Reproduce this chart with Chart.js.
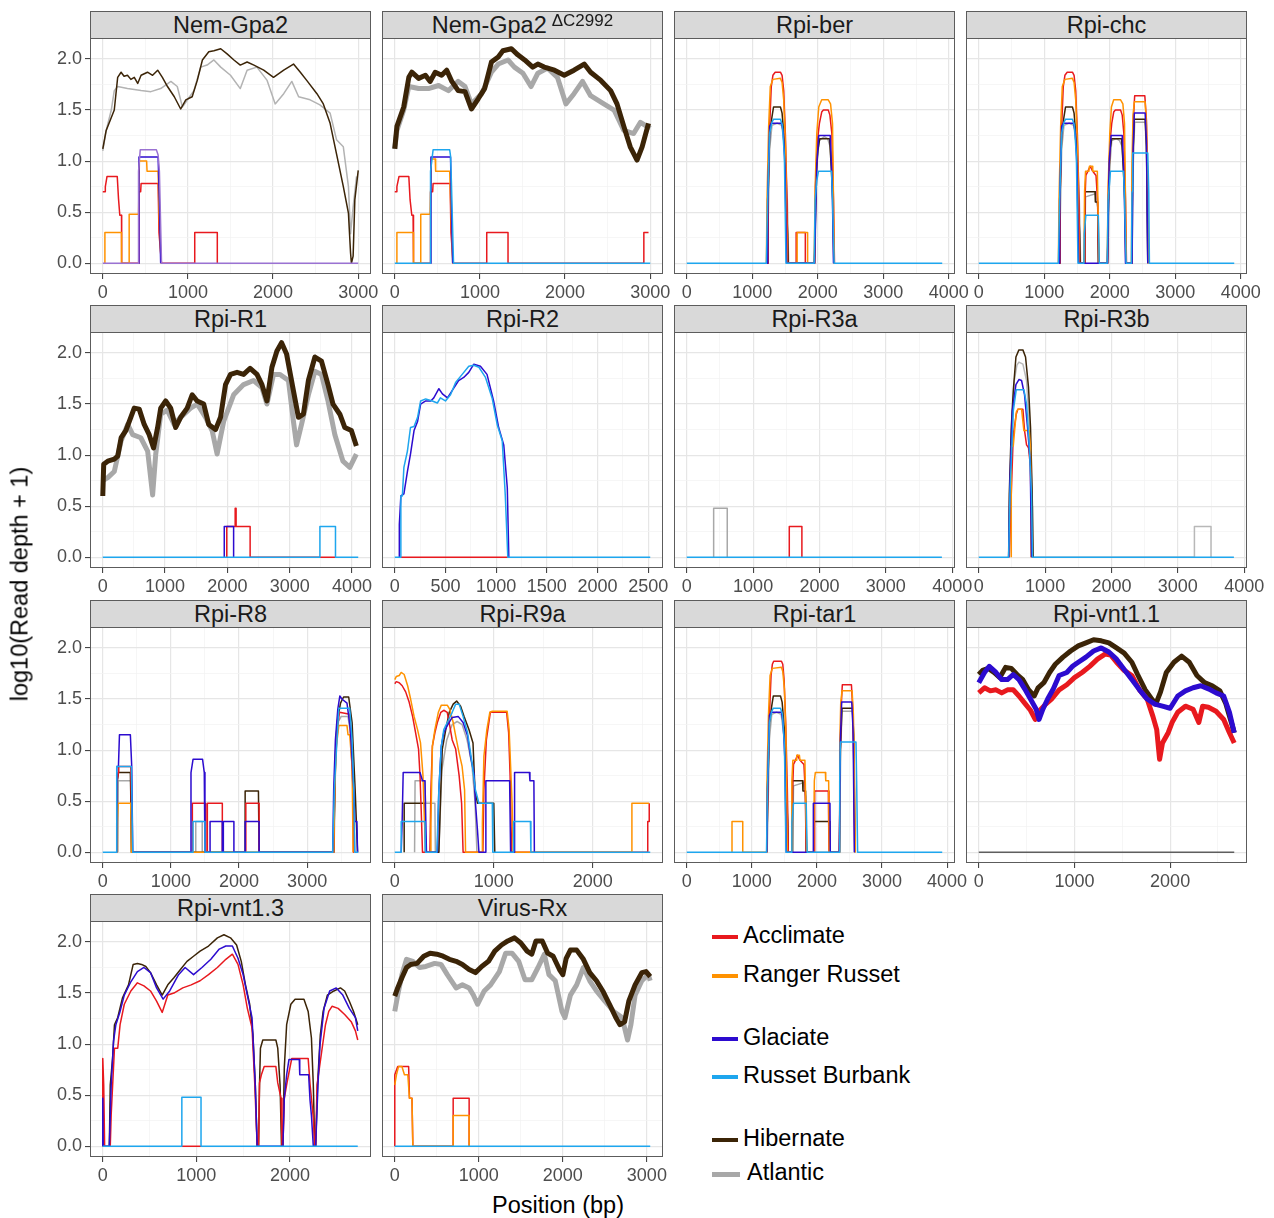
<!DOCTYPE html>
<html>
<head>
<meta charset="utf-8">
<script src="https://cdn.jsdelivr.net/npm/chart.js@4.4.1/dist/chart.umd.min.js"></script>
<style>
  html,body{margin:0;padding:0;background:#fff;}
  body{width:1274px;height:1218px;position:relative;overflow:hidden;font-family:'Liberation Sans',Arial,Helvetica,sans-serif;}
  canvas{position:absolute;}
  .strip{position:absolute;box-sizing:border-box;background:#D9D9D9;border:1px solid #5c5c5c;text-align:center;color:#1a1a1a;font-size:23.5px;line-height:26px;white-space:nowrap;}
  .strip sup{font-size:17px;vertical-align:0;position:relative;top:-7px;margin-left:5px;}
  .lab{position:absolute;color:#000;font-size:23.5px;white-space:nowrap;}
  .sw{position:absolute;height:4px;}
</style>
</head>
<body>
<script>
// ---------------- tick arrays ----------------
const Y_TICKS = [0,0.25,0.5,0.75,1,1.25,1.5,1.75,2];
const XT_3000 = [0,500,1000,1500,2000,2500,3000];
const XT_4000 = [0,500,1000,1500,2000,2500,3000,3500,4000];
const XT_R2   = [0,250,500,750,1000,1250,1500,1750,2000,2250,2500];
const XT_2500 = [0,500,1000,1500,2000,2500];

// ---------------- data: [position, log10(depth+1), ...] ----------------
// Nem-Gpa2
const GPA2_HIB = [0,1.12, 40,1.30, 135,1.50, 175,1.82, 215,1.87, 250,1.83, 290,1.84, 330,1.80, 370,1.82, 410,1.76, 450,1.84, 525,1.87, 585,1.84, 645,1.89, 700,1.82, 760,1.73, 840,1.63, 915,1.51, 975,1.60, 1050,1.63, 1110,1.79, 1170,1.99, 1245,2.07, 1305,2.08, 1385,2.10, 1460,2.05, 1540,1.99, 1615,1.94, 1695,1.97, 1775,1.94, 1890,1.89, 2005,1.82, 2125,1.89, 2240,1.95, 2320,1.87, 2395,1.79, 2515,1.66, 2590,1.56, 2670,1.37, 2745,1.07, 2825,0.75, 2885,0.49, 2910,0.10, 2920,0, 2940,0.07, 2960,0.62, 3000,0.91];
const GPA2_ATL = [0,1.10, 40,1.30, 100,1.50, 135,1.69, 175,1.73, 290,1.71, 450,1.69, 565,1.68, 680,1.71, 800,1.78, 875,1.73, 935,1.53, 995,1.60, 1070,1.69, 1150,1.92, 1225,1.94, 1305,1.99, 1385,1.92, 1500,1.84, 1615,1.71, 1695,1.89, 1810,1.92, 1930,1.79, 2025,1.56, 2125,1.66, 2220,1.78, 2300,1.63, 2435,1.60, 2550,1.55, 2670,1.47, 2745,1.21, 2825,1.14, 2885,0.75, 2910,0.29, 2940,0.55, 2980,0.85];
const GPA2_ACC = [0,0.70, 30,0.70, 30,0.75, 50,0.85, 170,0.85, 185,0.63, 200,0.47, 220,0.47, 222,0, 425,0, 425,0.70, 445,0.70, 450,0.78, 650,0.78, 660,0.30, 690,0, 1080,0, 1080,0.30, 1345,0.30, 1345,0];
const GPA2_RAN = [25,0, 25,0.30, 220,0.30, 220,0, 310,0, 310,0.48, 420,0.48, 430,1.00, 515,1.00, 520,0.90, 650,0.90, 660,0.50, 685,0];
const GPA2_GLA = [420,0, 425,1.04, 650,1.04, 665,0.60, 680,0];
const GPA2_RB  = [0,0, 420,0, 420,0.90, 440,1.11, 630,1.11, 650,1.06, 665,0.90, 690,0, 3000,0];

// Nem-Gpa2 dC2992
const GPA2D_HIB = [0,1.12, 25,1.34, 105,1.53, 165,1.82, 200,1.87, 280,1.81, 360,1.84, 415,1.78, 475,1.87, 550,1.84, 610,1.89, 670,1.78, 745,1.69, 825,1.68, 900,1.51, 980,1.61, 1055,1.71, 1135,1.97, 1215,2.02, 1270,2.08, 1370,2.10, 1445,2.04, 1525,1.99, 1620,1.92, 1680,1.95, 1755,1.92, 1875,1.89, 1990,1.84, 2105,1.89, 2225,1.95, 2300,1.87, 2420,1.79, 2535,1.69, 2610,1.56, 2690,1.34, 2765,1.14, 2845,1.01, 2905,1.14, 2980,1.37];
const GPA2D_ATL = [0,1.12, 25,1.30, 105,1.50, 165,1.73, 280,1.71, 395,1.71, 515,1.74, 630,1.69, 745,1.78, 825,1.73, 900,1.56, 1020,1.66, 1135,1.87, 1215,1.95, 1330,1.99, 1405,1.92, 1505,1.86, 1600,1.73, 1680,1.86, 1795,1.91, 1910,1.82, 2010,1.56, 2105,1.66, 2205,1.78, 2300,1.64, 2455,1.56, 2575,1.50, 2690,1.30, 2805,1.27, 2885,1.38, 3000,1.32];
const GPA2D_ACC = [0,0.70, 25,0.70, 25,0.75, 50,0.85, 165,0.85, 180,0.62, 200,0.47, 215,0.47, 220,0, 420,0, 420,0.70, 445,0.70, 450,0.78, 650,0.78, 660,0.30, 685,0, 1080,0, 1080,0.30, 1330,0.30, 1330,0, 2925,0, 2925,0.30, 2980,0.30];
const GPA2D_RAN = [25,0, 25,0.30, 220,0.30, 220,0, 305,0, 305,0.48, 415,0.48, 430,1.02, 475,1.02, 480,0.90, 645,0.90, 660,0.50, 680,0];
const GPA2D_GLA = [420,0, 425,1.04, 655,1.04, 665,0.55, 680,0];
const GPA2D_RB  = [0,0, 415,0, 420,0.90, 450,1.11, 645,1.11, 655,1.05, 665,0.80, 690,0, 3000,0];

// Rpi-ber
const BER_ACC = [1225,0, 1240,0.62, 1265,1.34, 1290,1.73, 1315,1.84, 1350,1.87, 1430,1.87, 1455,1.84, 1480,1.69, 1505,1.27, 1530,0.62, 1540,0, 1670,0, 1670,0.30, 1810,0.30, 1810,0, 1950,0, 1965,0.75, 1995,1.20, 2025,1.37, 2060,1.48, 2085,1.50, 2160,1.50, 2185,1.45, 2215,1.27, 2240,0.62, 2255,0];
const BER_RAN = [1215,0, 1225,0.62, 1250,1.34, 1275,1.73, 1315,1.80, 1430,1.81, 1455,1.77, 1480,1.60, 1510,1.11, 1530,0, 1685,0, 1685,0.30, 1845,0.30, 1845,0, 1945,0, 1960,0.75, 1985,1.27, 2015,1.53, 2060,1.60, 2160,1.60, 2195,1.56, 2225,1.37, 2240,0.62, 2250,0];
const BER_GLA = [1225,0, 1235,0.62, 1265,1.34, 1290,1.37, 1450,1.37, 1475,1.27, 1500,0.94, 1525,0, 1950,0, 1985,0.98, 2015,1.25, 2190,1.25, 2220,0.78, 2240,0];
const BER_RB  = [0,0, 1215,0, 1235,0.62, 1265,1.27, 1300,1.38, 1325,1.41, 1430,1.41, 1460,1.35, 1490,1.05, 1515,0, 1945,0, 1960,0.62, 1985,0.81, 2010,0.90, 2210,0.90, 2225,0.62, 2250,0, 3900,0];
const BER_HIB = [1225,0, 1240,0.62, 1265,1.27, 1300,1.43, 1325,1.53, 1430,1.53, 1455,1.47, 1490,1.20, 1520,0.62, 1540,0.29, 1550,0, 1950,0, 1975,0.85, 2000,1.10, 2030,1.22, 2180,1.22, 2205,0.95, 2230,0.60, 2245,0];
const BER_ATL = [1230,0, 1265,1.11, 1300,1.35, 1380,1.37, 1450,1.35, 1500,1.11, 1535,0.62, 1555,0, 1955,0, 1985,0.95, 2020,1.20, 2100,1.24, 2150,1.22, 2190,1.14, 2230,0.70, 2250,0];

// Rpi-chc
const CHC_ACC = [1225,0, 1240,0.62, 1265,1.34, 1290,1.73, 1315,1.84, 1350,1.87, 1430,1.87, 1455,1.84, 1480,1.69, 1505,1.27, 1530,0.62, 1540,0, 1610,0, 1620,0.60, 1635,0.86, 1665,0.90, 1700,0.95, 1740,0.90, 1790,0.86, 1815,0.60, 1830,0, 1965,0, 1980,0.75, 2005,1.20, 2030,1.37, 2060,1.48, 2085,1.50, 2165,1.50, 2190,1.45, 2215,1.27, 2240,0.62, 2255,0, 2335,0, 2345,0.90, 2360,1.40, 2380,1.64, 2535,1.64, 2560,1.40, 2575,0.90, 2590,0];
const CHC_RAN = [1215,0, 1225,0.62, 1250,1.34, 1275,1.73, 1315,1.80, 1430,1.81, 1455,1.77, 1480,1.60, 1510,1.11, 1530,0, 1605,0, 1615,0.70, 1630,0.90, 1680,0.90, 1690,0.95, 1730,0.95, 1740,0.90, 1810,0.90, 1825,0.40, 1840,0, 1960,0, 1975,0.75, 2000,1.27, 2025,1.53, 2060,1.60, 2165,1.60, 2200,1.56, 2225,1.37, 2240,0.62, 2250,0, 2330,0, 2340,1.00, 2355,1.45, 2375,1.58, 2540,1.58, 2560,1.35, 2575,0.80, 2590,0];
const CHC_GLA = [1225,0, 1235,0.62, 1265,1.34, 1290,1.37, 1450,1.37, 1475,1.27, 1500,0.94, 1525,0, 1965,0, 1990,0.98, 2020,1.25, 2190,1.25, 2220,0.78, 2240,0, 2340,0, 2355,1.10, 2375,1.47, 2540,1.47, 2560,1.20, 2580,0];
const CHC_RB  = [0,0, 1215,0, 1235,0.62, 1265,1.27, 1300,1.38, 1325,1.41, 1430,1.41, 1460,1.35, 1490,1.05, 1515,0, 1605,0, 1610,0.29, 1635,0.47, 1825,0.47, 1840,0, 1960,0, 1975,0.62, 2000,0.81, 2010,0.90, 2210,0.90, 2225,0.62, 2250,0, 2330,0, 2340,0.70, 2350,1.08, 2580,1.08, 2595,0.70, 2605,0, 3900,0];
const CHC_HIB = [1225,0, 1240,0.62, 1265,1.27, 1300,1.43, 1325,1.53, 1430,1.53, 1455,1.47, 1490,1.20, 1520,0.62, 1540,0.29, 1550,0, 1610,0, 1620,0.70, 1775,0.70, 1780,0.60, 1815,0.60, 1825,0, 1965,0, 1980,0.60, 2000,1.10, 2030,1.22, 2180,1.22, 2205,0.95, 2230,0.60, 2245,0, 2335,0, 2350,1.00, 2375,1.41, 2540,1.41, 2560,1.15, 2580,0];
const CHC_ATL = [1230,0, 1265,1.11, 1300,1.35, 1380,1.37, 1450,1.35, 1500,1.11, 1535,0.62, 1555,0, 1615,0, 1630,0.65, 1780,0.68, 1815,0.55, 1830,0, 1970,0, 2000,0.95, 2030,1.20, 2100,1.22, 2150,1.20, 2190,1.14, 2230,0.70, 2250,0, 2340,0, 2360,1.00, 2380,1.38, 2540,1.38, 2565,1.00, 2580,0];

// Rpi-R1
const R1_HIB = [0,0.60, 15,0.91, 80,0.94, 185,0.96, 240,0.99, 295,1.17, 370,1.24, 450,1.37, 505,1.46, 585,1.45, 665,1.30, 745,1.20, 815,1.07, 880,1.27, 930,1.46, 1010,1.53, 1090,1.46, 1170,1.27, 1250,1.37, 1355,1.46, 1435,1.59, 1515,1.53, 1620,1.50, 1700,1.30, 1810,1.25, 1890,1.37, 1970,1.69, 2050,1.79, 2155,1.81, 2260,1.79, 2365,1.85, 2475,1.79, 2555,1.69, 2635,1.53, 2715,1.86, 2795,2.02, 2870,2.10, 2950,1.99, 3060,1.63, 3140,1.37, 3220,1.40, 3300,1.73, 3405,1.96, 3510,1.92, 3615,1.69, 3695,1.50, 3805,1.40, 3885,1.27, 3990,1.24, 4070,1.09];
const R1_ATL = [0,0.75, 80,0.78, 185,0.84, 295,1.14, 400,1.30, 480,1.20, 610,1.17, 720,1.04, 800,0.61, 850,1.01, 930,1.40, 1035,1.44, 1145,1.30, 1250,1.37, 1410,1.46, 1515,1.50, 1650,1.37, 1755,1.24, 1835,1.01, 1940,1.33, 2100,1.59, 2260,1.69, 2420,1.73, 2555,1.66, 2635,1.50, 2740,1.79, 2845,1.79, 2980,1.73, 3060,1.33, 3110,1.10, 3190,1.30, 3300,1.59, 3405,1.82, 3510,1.79, 3615,1.53, 3725,1.20, 3855,0.94, 3965,0.88, 4070,1.01];
const R1_ACC = [1990,0, 1990,0.30, 2125,0.30, 2125,0.48, 2140,0.48, 2140,0.30, 2365,0.30, 2365,0, 3485,0, 3735,0];
const R1_GLA = [1950,0, 1950,0.30, 2100,0.30, 2100,0];
const R1_RB  = [0,0, 3485,0, 3485,0.30, 3735,0.30, 3735,0, 4100,0];

// Rpi-R2
const R2_RB  = [0,0, 60,0, 60,0.60, 75,0.60, 90,0.88, 125,1.04, 155,1.27, 190,1.28, 225,1.37, 255,1.53, 305,1.55, 370,1.53, 420,1.51, 450,1.56, 500,1.53, 550,1.59, 600,1.71, 665,1.79, 730,1.87, 780,1.88, 830,1.86, 895,1.76, 960,1.56, 1010,1.30, 1060,1.14, 1090,0.61, 1115,0, 2520,0];
const R2_GLA = [45,0, 45,0.32, 60,0.60, 90,0.62, 125,0.84, 155,1.01, 190,1.24, 225,1.33, 255,1.50, 305,1.53, 355,1.53, 385,1.56, 435,1.65, 470,1.60, 520,1.56, 585,1.66, 630,1.73, 680,1.76, 730,1.81, 780,1.89, 845,1.87, 910,1.79, 975,1.53, 1025,1.27, 1075,1.10, 1110,0.68, 1125,0];
const R2_ACC = [60,0, 1115,0];

// Rpi-R3a
const R3A_ATL = [405,0, 405,0.48, 610,0.48, 610,0];
const R3A_ACC = [1545,0, 1545,0.30, 1735,0.30, 1735,0];
const R3A_RB  = [0,0, 3845,0];

// Rpi-R3b
const R3B_HIB = [450,0, 460,0.62, 490,1.27, 520,1.63, 560,1.96, 605,2.03, 665,2.03, 705,1.96, 750,1.66, 780,1.27, 805,0.62, 820,0];
const R3B_ATL = [460,0, 490,1.00, 535,1.73, 575,1.88, 605,1.91, 665,1.89, 720,1.73, 780,1.11, 805,0.50, 810,0, 3250,0, 3250,0.30, 3500,0.30, 3500,0];
const R3B_GLA = [450,0, 470,0.75, 505,1.43, 560,1.69, 605,1.74, 645,1.73, 690,1.59, 735,1.27, 775,0.94, 795,0];
const R3B_RB  = [0,0, 450,0, 470,0.62, 520,1.43, 565,1.64, 680,1.64, 720,1.50, 760,1.11, 795,0.62, 810,0, 3845,0];
const R3B_ACC = [460,0, 490,0.62, 520,1.20, 565,1.40, 590,1.45, 665,1.45, 690,1.24, 720,1.10, 750,1.07, 780,0.88, 795,0];
const R3B_RAN = [490,0, 490,1.09, 520,1.09, 535,1.20, 565,1.42, 590,1.45, 645,1.45, 680,1.24, 760,1.24, 780,1.07, 790,0];

// Rpi-R8
const R8_GLA = [205,0, 205,0.84, 230,0.84, 245,1.15, 405,1.15, 425,0.84, 440,0, 1285,0, 1295,0.78, 1325,0.91, 1465,0.91, 1490,0.78, 1500,0, 1575,0, 1575,0.30, 1755,0.30, 1755,0, 1770,0, 1770,0.30, 1925,0.30, 1925,0, 2090,0, 2090,0.30, 2295,0.30, 2295,0, 3375,0, 3390,0.62, 3415,1.10, 3450,1.40, 3480,1.53, 3510,1.50, 3585,1.46, 3635,1.20, 3685,0.61, 3700,0.30, 3730,0.30, 3740,0];
const R8_RB  = [0,0, 205,0, 205,0.84, 420,0.84, 440,0, 1325,0, 1325,0.30, 1500,0.30, 1500,0, 3375,0, 3400,0.62, 3430,1.00, 3465,1.41, 3625,1.41, 3660,1.10, 3685,0.61, 3700,0, 3750,0];
const R8_ACC = [210,0, 210,0.70, 230,0.78, 235,0.84, 410,0.84, 415,0.70, 430,0, 1315,0, 1315,0.48, 1510,0.48, 1510,0, 1535,0, 1535,0.48, 1755,0.48, 1755,0, 2100,0, 2100,0.48, 2295,0.48, 2295,0, 3390,0, 3405,0.70, 3440,1.20, 3475,1.37, 3625,1.35, 3645,1.04, 3675,0.61, 3680,0];
const R8_RAN = [215,0, 215,0.30, 225,0.48, 410,0.48, 415,0.30, 420,0, 3390,0, 3405,0.62, 3430,1.04, 3465,1.24, 3585,1.24, 3600,1.15, 3625,1.15, 3660,0.84, 3675,0];
const R8_HIB = [215,0, 215,0.70, 230,0.78, 405,0.78, 410,0.60, 420,0, 2090,0, 2090,0.60, 2285,0.60, 2295,0, 3390,0, 3415,0.94, 3440,1.27, 3490,1.46, 3535,1.52, 3610,1.52, 3660,1.27, 3705,0.61, 3740,0];
const R8_ATL = [215,0, 225,0.70, 410,0.70, 425,0, 1365,0, 1365,0.30, 1460,0.30, 1460,0, 3395,0, 3420,1.00, 3460,1.28, 3500,1.33, 3600,1.33, 3640,1.15, 3680,0.50, 3700,0];

// Rpi-R9a
const R9A_RAN = [0,1.69, 15,1.72, 45,1.73, 65,1.76, 95,1.74, 130,1.63, 160,1.50, 195,1.33, 230,1.20, 260,1.07, 285,0.75, 300,0.29, 320,0, 360,0, 365,0.29, 380,1.04, 405,1.20, 440,1.37, 470,1.44, 530,1.44, 555,1.40, 590,1.27, 615,1.14, 650,0.97, 680,0.84, 705,0.61, 715,0, 885,0, 885,0.29, 900,0.94, 930,1.20, 960,1.37, 985,1.38, 1135,1.38, 1155,1.20, 1170,0.84, 1185,0.48, 1195,0, 2395,0, 2395,0.48, 2570,0.48];
const R9A_ACC = [0,1.65, 15,1.67, 45,1.66, 75,1.63, 110,1.57, 145,1.47, 180,1.33, 210,1.17, 240,1.01, 255,0.75, 270,0.32, 280,0, 355,0, 365,0.61, 380,1.04, 405,1.17, 430,1.27, 465,1.37, 495,1.39, 530,1.37, 555,1.24, 580,1.10, 615,1.01, 650,0.75, 675,0.48, 690,0, 890,0, 900,0.61, 925,1.10, 965,1.37, 1130,1.37, 1150,1.17, 1165,0.75, 1180,0, 2555,0, 2555,0.30, 2570,0.30, 2570,0.48];
const R9A_GLA = [65,0, 75,0.32, 85,0.78, 255,0.78, 280,0.70, 305,0.70, 320,0, 430,0, 445,0.61, 470,1.04, 495,1.17, 530,1.24, 580,1.32, 640,1.33, 690,1.27, 735,1.14, 765,0.94, 800,0.77, 815,0.48, 835,0.22, 850,0, 920,0, 920,0.70, 1160,0.70, 1170,0, 1210,0, 1210,0.78, 1360,0.78, 1365,0.70, 1405,0.70, 1410,0];
const R9A_RB  = [0,0, 65,0, 65,0.30, 305,0.30, 310,0, 425,0, 445,0.61, 470,1.04, 495,1.20, 530,1.27, 580,1.37, 615,1.45, 650,1.45, 690,1.33, 735,1.17, 775,0.91, 815,0.61, 850,0.48, 985,0.48, 990,0, 1200,0, 1200,0.30, 1370,0.30, 1375,0, 2580,0];
const R9A_HIB = [95,0, 95,0.48, 305,0.48, 310,0, 445,0, 465,0.61, 480,1.01, 515,1.20, 550,1.37, 590,1.45, 625,1.48, 665,1.43, 700,1.33, 750,1.20, 790,1.07, 810,0.61, 835,0.48, 1000,0.48, 1010,0];
const R9A_ATL = [200,0, 205,0.70, 305,0.70, 310,0.48, 405,0.48, 410,0, 445,0, 475,0.80, 525,1.10, 580,1.25, 630,1.28, 680,1.25, 730,1.10, 780,0.85, 810,0.50, 830,0];

// Rpi-tar1
const TAR1_ACC = [1230,0, 1245,0.62, 1270,1.34, 1295,1.73, 1315,1.84, 1335,1.87, 1455,1.87, 1475,1.84, 1495,1.69, 1520,1.27, 1545,0.62, 1560,0, 1615,0, 1625,0.60, 1640,0.86, 1670,0.90, 1700,0.95, 1740,0.90, 1800,0.86, 1820,0.60, 1835,0, 1955,0, 1965,0.60, 2175,0.60, 2185,0, 2345,0, 2355,0.90, 2370,1.40, 2390,1.64, 2530,1.64, 2550,1.40, 2565,0.90, 2580,0];
const TAR1_RAN = [695,0, 695,0.30, 860,0.30, 860,0, 1220,0, 1230,0.62, 1255,1.34, 1280,1.73, 1315,1.80, 1455,1.81, 1475,1.77, 1500,1.60, 1525,1.11, 1545,0, 1605,0, 1615,0.70, 1630,0.90, 1680,0.90, 1690,0.95, 1730,0.95, 1740,0.90, 1815,0.90, 1830,0.40, 1845,0, 1950,0, 1960,0.70, 1975,0.78, 2130,0.78, 2135,0.70, 2180,0.70, 2190,0, 2340,0, 2350,1.00, 2365,1.45, 2385,1.58, 2540,1.58, 2560,1.35, 2575,0.80, 2590,0];
const TAR1_GLA = [1230,0, 1240,0.62, 1270,1.34, 1295,1.37, 1455,1.37, 1480,1.27, 1505,0.94, 1530,0, 1945,0, 1945,0.48, 2200,0.48, 2205,0, 2345,0, 2360,1.10, 2380,1.47, 2535,1.47, 2555,1.20, 2575,0];
const TAR1_RB  = [0,0, 1225,0, 1240,0.62, 1270,1.27, 1305,1.38, 1330,1.41, 1440,1.41, 1470,1.35, 1500,1.05, 1525,0, 1610,0, 1615,0.29, 1640,0.48, 1835,0.48, 1850,0, 2340,0, 2350,0.70, 2360,1.08, 2600,1.08, 2610,0.70, 2625,0, 3925,0];
const TAR1_HIB = [1230,0, 1245,0.62, 1270,1.27, 1305,1.43, 1330,1.53, 1440,1.53, 1465,1.47, 1500,1.20, 1530,0.62, 1550,0.29, 1560,0, 1620,0, 1625,0.70, 1780,0.70, 1785,0.60, 1825,0.60, 1835,0, 1955,0, 1955,0.30, 2190,0.30, 2200,0, 2345,0, 2360,1.00, 2385,1.41, 2545,1.41, 2565,1.15, 2585,0];
const TAR1_ATL = [1235,0, 1270,1.11, 1305,1.35, 1380,1.37, 1450,1.35, 1500,1.11, 1540,0.62, 1560,0, 1625,0, 1640,0.65, 1790,0.68, 1825,0.55, 1840,0, 2345,0, 2365,1.00, 2385,1.38, 2545,1.38, 2570,1.00, 2585,0];

// Rpi-vnt1.1
const VNT11_HIB = [0,1.74, 40,1.78, 100,1.80, 160,1.76, 220,1.71, 280,1.81, 340,1.80, 400,1.74, 460,1.69, 520,1.59, 580,1.53, 620,1.61, 680,1.66, 740,1.76, 800,1.84, 880,1.91, 960,1.97, 1040,2.02, 1120,2.05, 1200,2.08, 1280,2.07, 1360,2.05, 1440,2.00, 1520,1.95, 1600,1.86, 1660,1.74, 1740,1.59, 1800,1.51, 1850,1.45, 1900,1.57, 1960,1.76, 2040,1.86, 2120,1.92, 2200,1.86, 2280,1.73, 2360,1.66, 2440,1.63, 2520,1.58, 2580,1.46, 2640,1.27, 2670,1.17];
const VNT11_GLA = [0,1.66, 60,1.76, 110,1.82, 180,1.76, 240,1.69, 300,1.69, 360,1.74, 420,1.69, 480,1.60, 540,1.50, 600,1.40, 630,1.30, 670,1.40, 720,1.50, 780,1.60, 840,1.73, 920,1.76, 980,1.82, 1040,1.86, 1120,1.91, 1200,1.97, 1280,2.00, 1360,1.96, 1440,1.89, 1520,1.79, 1600,1.69, 1680,1.59, 1760,1.50, 1840,1.45, 1920,1.43, 2000,1.41, 2080,1.53, 2160,1.58, 2240,1.61, 2320,1.63, 2400,1.60, 2480,1.56, 2560,1.53, 2620,1.37, 2670,1.17];
const VNT11_ACC = [0,1.56, 60,1.61, 120,1.58, 180,1.59, 240,1.56, 300,1.59, 360,1.59, 420,1.53, 480,1.46, 540,1.39, 590,1.30, 640,1.39, 700,1.45, 760,1.50, 840,1.59, 920,1.64, 1000,1.71, 1080,1.76, 1160,1.82, 1240,1.89, 1320,1.94, 1380,1.93, 1440,1.86, 1520,1.78, 1600,1.73, 1680,1.59, 1760,1.50, 1820,1.33, 1860,1.20, 1890,0.91, 1920,1.07, 1980,1.17, 2020,1.27, 2080,1.37, 2160,1.43, 2240,1.40, 2300,1.27, 2340,1.43, 2400,1.42, 2480,1.38, 2560,1.30, 2620,1.17, 2670,1.07];
const VNT11_ATL = [0,0, 2670,0];

// Rpi-vnt1.3
const VNT13_HIB = [70,0, 80,0.60, 105,0.86, 125,1.19, 160,1.26, 210,1.45, 275,1.58, 325,1.78, 370,1.79, 415,1.78, 460,1.76, 510,1.70, 575,1.58, 635,1.48, 695,1.58, 760,1.65, 830,1.73, 900,1.81, 970,1.86, 1040,1.91, 1130,1.96, 1225,2.04, 1295,2.07, 1365,2.04, 1430,1.97, 1480,1.81, 1525,1.58, 1570,1.39, 1605,1.09, 1630,0.60, 1650,0, 1665,0, 1675,0.60, 1685,0.96, 1710,1.04, 1850,1.04, 1870,0.96, 1895,0.60, 1910,0, 1925,0, 1940,0.77, 1965,1.19, 2010,1.39, 2055,1.44, 2150,1.44, 2195,1.32, 2230,1.06, 2250,0.60, 2265,0, 2275,0, 2295,0.60, 2325,1.09, 2355,1.32, 2400,1.48, 2470,1.52, 2540,1.55, 2585,1.52, 2635,1.42, 2680,1.32, 2725,1.19];
const VNT13_GLA = [0,0, 0,0.47, 5,0, 70,0, 90,0.60, 115,1.03, 140,1.19, 185,1.32, 230,1.48, 300,1.61, 370,1.71, 440,1.75, 510,1.70, 575,1.55, 645,1.44, 715,1.52, 810,1.68, 880,1.75, 970,1.68, 1060,1.75, 1155,1.83, 1245,1.93, 1315,1.96, 1385,1.96, 1445,1.84, 1500,1.68, 1545,1.48, 1595,1.26, 1630,0.60, 1650,0, 1925,0, 1940,0.47, 1965,0.70, 1990,0.85, 2100,0.85, 2105,0.70, 2200,0.70, 2215,0.45, 2230,0.30, 2250,0, 2275,0, 2300,0.60, 2320,0.98, 2365,1.35, 2425,1.52, 2495,1.55, 2565,1.48, 2635,1.35, 2700,1.26, 2725,1.13];
const VNT13_ACC = [0,0, 0,0.86, 10,0.60, 20,0, 80,0, 90,0.31, 125,0.96, 160,0.96, 185,1.19, 230,1.39, 300,1.52, 370,1.60, 440,1.57, 510,1.52, 575,1.42, 635,1.31, 695,1.48, 760,1.50, 855,1.55, 945,1.58, 1040,1.62, 1130,1.68, 1225,1.75, 1315,1.83, 1385,1.88, 1445,1.78, 1500,1.58, 1545,1.35, 1595,1.16, 1625,0.60, 1650,0, 1665,0, 1675,0.62, 1695,0.70, 1725,0.78, 1850,0.78, 1870,0.62, 1905,0.47, 1915,0, 1925,0, 1940,0.47, 1965,0.60, 1985,0.70, 2020,0.86, 2195,0.86, 2215,0.61, 2250,0.28, 2265,0, 2275,0, 2290,0.60, 2340,0.93, 2380,1.19, 2415,1.32, 2450,1.37, 2515,1.35, 2585,1.29, 2655,1.22, 2700,1.13, 2725,1.04];
const VNT13_ACC_B = [845,0, 1050,0];
const VNT13_RB  = [0,0, 845,0, 845,0.48, 1050,0.48, 1050,0, 2725,0];

// Virus-Rx
const RX_HIB = [0,1.47, 35,1.55, 85,1.65, 140,1.75, 190,1.78, 265,1.79, 345,1.86, 420,1.89, 500,1.88, 575,1.86, 650,1.83, 730,1.81, 805,1.78, 885,1.73, 960,1.70, 1035,1.76, 1115,1.81, 1190,1.91, 1270,1.97, 1345,2.01, 1425,2.04, 1500,1.99, 1575,1.91, 1630,1.88, 1680,2.01, 1755,2.01, 1820,1.89, 1885,1.86, 1960,1.73, 2000,1.68, 2040,1.84, 2090,1.92, 2165,1.92, 2245,1.83, 2320,1.70, 2400,1.62, 2475,1.52, 2555,1.39, 2630,1.26, 2680,1.19, 2735,1.22, 2785,1.42, 2860,1.58, 2940,1.70, 2990,1.71, 3040,1.66];
const RX_ATL = [0,1.32, 35,1.48, 85,1.68, 140,1.83, 215,1.81, 295,1.75, 370,1.76, 475,1.79, 550,1.78, 625,1.68, 730,1.55, 805,1.58, 885,1.55, 935,1.48, 985,1.39, 1065,1.52, 1140,1.58, 1245,1.71, 1320,1.89, 1395,1.89, 1475,1.81, 1550,1.63, 1630,1.63, 1705,1.75, 1780,1.88, 1835,1.68, 1910,1.62, 1990,1.32, 2025,1.26, 2090,1.48, 2165,1.58, 2245,1.75, 2320,1.62, 2400,1.52, 2500,1.42, 2605,1.32, 2705,1.26, 2770,1.04, 2810,1.19, 2860,1.48, 2940,1.62, 3015,1.68, 3040,1.62];
const RX_ACC = [0,0, 0,0.70, 35,0.78, 165,0.78, 175,0.47, 205,0.47, 215,0, 695,0, 695,0.47, 885,0.47, 885,0];
const RX_RAN = [0,0.60, 20,0.70, 45,0.78, 85,0.78, 115,0.70, 155,0.70, 175,0.47, 205,0.47, 215,0, 695,0, 695,0.30, 885,0.30, 885,0];
const RX_RB  = [0,0, 3040,0];

// ---------------- styling ----------------
const NAMES  = {ACC:'Acclimate', RAN:'Ranger Russet', GLA:'Glaciate', RB:'Russet Burbank', HIB:'Hibernate', ATL:'Atlantic'};
const COLORS = {ACC:'#E8191E', RAN:'#FF9200', GLA:'#2C0BCF', RB:'#1EA6EE', HIB:'#3B2407', ATL:'#A8A8A8'};
const ORDER  = {ATL:6, HIB:5, ACC:4, RAN:3, GLA:2, RB:1};
const THIN = 1.5, THICK = 5;

const PANELS = [
  {title:'Nem-Gpa2', L:3000, xt:XT_3000, maj:1000, thick:[], s:[['ATL',GPA2_ATL,'#B3B3B3'],['HIB',GPA2_HIB],['ACC',GPA2_ACC],['RAN',GPA2_RAN],['GLA',GPA2_GLA],['RB',GPA2_RB,'#9A72D2']]},
  {title:'Nem-Gpa2', sup:'\u0394C2992', L:3000, xt:XT_3000, maj:1000, thick:['ATL','HIB'], s:[['ATL',GPA2D_ATL],['HIB',GPA2D_HIB],['ACC',GPA2D_ACC],['RAN',GPA2D_RAN],['GLA',GPA2D_GLA],['RB',GPA2D_RB]]},
  {title:'Rpi-ber', L:3900, xt:XT_4000, maj:1000, thick:[], s:[['ATL',BER_ATL],['HIB',BER_HIB],['ACC',BER_ACC],['RAN',BER_RAN],['GLA',BER_GLA],['RB',BER_RB]]},
  {title:'Rpi-chc', L:3900, xt:XT_4000, maj:1000, thick:[], s:[['ATL',CHC_ATL],['HIB',CHC_HIB],['ACC',CHC_ACC],['RAN',CHC_RAN],['GLA',CHC_GLA],['RB',CHC_RB]]},
  {title:'Rpi-R1', L:4100, xt:XT_4000, maj:1000, thick:['ATL','HIB'], s:[['ATL',R1_ATL],['HIB',R1_HIB],['ACC',R1_ACC],['GLA',R1_GLA],['RB',R1_RB]]},
  {title:'Rpi-R2', L:2520, xt:XT_R2, maj:500, thick:[], s:[['ACC',R2_ACC],['GLA',R2_GLA],['RB',R2_RB]]},
  {title:'Rpi-R3a', L:3850, xt:XT_4000, maj:1000, thick:[], s:[['ATL',R3A_ATL],['ACC',R3A_ACC],['RB',R3A_RB]]},
  {title:'Rpi-R3b', L:3850, xt:XT_4000, maj:1000, thick:[], s:[['ATL',R3B_ATL,'#B8B8B8'],['HIB',R3B_HIB],['ACC',R3B_ACC],['RAN',R3B_RAN],['GLA',R3B_GLA],['RB',R3B_RB]]},
  {title:'Rpi-R8', L:3750, xt:XT_4000.slice(0,8), maj:1000, thick:[], s:[['ATL',R8_ATL],['HIB',R8_HIB],['ACC',R8_ACC],['RAN',R8_RAN],['GLA',R8_GLA],['RB',R8_RB]]},
  {title:'Rpi-R9a', L:2580, xt:XT_2500, maj:1000, thick:[], s:[['ATL',R9A_ATL],['HIB',R9A_HIB],['ACC',R9A_ACC],['RAN',R9A_RAN],['GLA',R9A_GLA],['RB',R9A_RB]]},
  {title:'Rpi-tar1', L:3925, xt:XT_4000, maj:1000, thick:[], s:[['ATL',TAR1_ATL],['HIB',TAR1_HIB],['ACC',TAR1_ACC],['RAN',TAR1_RAN],['GLA',TAR1_GLA],['RB',TAR1_RB]]},
  {title:'Rpi-vnt1.1', L:2670, xt:XT_2500, maj:1000, thick:['HIB','GLA','ACC'], s:[['ATL',VNT11_ATL,'#5E5E5E'],['HIB',VNT11_HIB],['ACC',VNT11_ACC],['GLA',VNT11_GLA]]},
  {title:'Rpi-vnt1.3', L:2730, xt:XT_2500, maj:1000, thick:[], s:[['HIB',VNT13_HIB],['ACC',VNT13_ACC],['ACC',VNT13_ACC_B],['GLA',VNT13_GLA],['RB',VNT13_RB]]},
  {title:'Virus-Rx', L:3040, xt:XT_3000, maj:1000, thick:['ATL','HIB'], s:[['ATL',RX_ATL],['HIB',RX_HIB],['ACC',RX_ACC],['RAN',RX_RAN],['RB',RX_RB]]}
];

// ---------------- layout ----------------
const COL_LEFT = [90, 382, 674, 966];
const ROW_TOP  = [38, 332, 627, 921];
const PW = 281, PH = 236, STRIP_H = 28;
const FONT = "'Liberation Sans', Arial, Helvetica, sans-serif";
const TICK_COLOR = '#4D4D4D';

const framePlugin = {
  id: 'frame',
  afterDraw(chart) {
    const {ctx, chartArea: a} = chart;
    ctx.save();
    ctx.strokeStyle = '#5c5c5c';
    ctx.lineWidth = 1;
    ctx.strokeRect(Math.round(a.left) + 0.5, Math.round(a.top) + 0.5, Math.round(a.right - a.left) - 1, Math.round(a.bottom - a.top) - 1);
    ctx.restore();
  }
};

function toPoints(arr) {
  const out = [];
  for (let i = 0; i < arr.length; i += 2) out.push({x: arr[i], y: arr[i + 1]});
  return out;
}

const isMajor = (v, step) => Math.abs(v / step - Math.round(v / step)) < 1e-6;

PANELS.forEach((p, i) => {
  const col = i % 4, row = Math.floor(i / 4);
  const left = COL_LEFT[col], top = ROW_TOP[row];
  const leftM = col === 0 ? 60 : 0;
  const rightM = 24, bottomM = 34;

  // strip
  const strip = document.createElement('div');
  strip.className = 'strip';
  strip.style.left = left + 'px';
  strip.style.top = (top - STRIP_H + 1) + 'px';
  strip.style.width = PW + 'px';
  strip.style.height = STRIP_H + 'px';
  strip.textContent = p.title;
  if (p.sup) { const s = document.createElement('sup'); s.textContent = p.sup; strip.appendChild(s); }
  document.body.appendChild(strip);

  const cv = document.createElement('canvas');
  const W = leftM + PW + rightM, H = PH + bottomM;
  cv.width = W; cv.height = H;
  cv.style.width = W + 'px'; cv.style.height = H + 'px';
  cv.style.left = (left - leftM) + 'px';
  cv.style.top = top + 'px';
  document.body.appendChild(cv);

  const datasets = p.s.map(([key, arr, colorOverride]) => ({
    label: NAMES[key],
    data: toPoints(arr),
    borderColor: colorOverride || COLORS[key],
    borderWidth: p.thick.includes(key) ? THICK : THIN,
    pointRadius: 0,
    fill: false,
    tension: 0,
    borderJoinStyle: 'round',
    borderCapStyle: 'butt',
    order: ORDER[key]
  }));

  new Chart(cv, {
    type: 'line',
    data: {datasets},
    plugins: [framePlugin],
    options: {
      animation: false,
      responsive: false,
      devicePixelRatio: 1,
      parsing: false,
      normalized: true,
      layout: {padding: {left: 0, right: rightM, top: 0, bottom: 0}},
      plugins: {legend: {display: false}, tooltip: {enabled: false}, title: {display: false}},
      scales: {
        x: {
          type: 'linear',
          min: -0.05 * p.L,
          max: 1.05 * p.L,
          afterBuildTicks: (sc) => { sc.ticks = p.xt.map(v => ({value: v})); },
          afterFit: (sc) => { sc.height = bottomM; sc.paddingLeft = 0; sc.paddingRight = 0; },
          border: {display: false},
          grid: {
            drawTicks: true,
            tickLength: 5,
            color: (c) => c.tick && isMajor(c.tick.value, p.maj) ? '#E6E6E6' : '#F2F2F2',
            lineWidth: (c) => c.tick && isMajor(c.tick.value, p.maj) ? 1.2 : 0.7,
            tickColor: (c) => c.tick && isMajor(c.tick.value, p.maj) ? '#333333' : 'rgba(0,0,0,0)',
            tickWidth: 1
          },
          ticks: {
            autoSkip: false, maxRotation: 0, minRotation: 0, padding: 3,
            color: TICK_COLOR, font: {family: FONT, size: 18},
            callback: (v) => isMajor(v, p.maj) ? String(v) : ''
          }
        },
        y: {
          type: 'linear',
          min: -0.105,
          max: 2.205,
          afterBuildTicks: (sc) => { sc.ticks = Y_TICKS.map(v => ({value: v})); },
          afterFit: (sc) => { sc.width = leftM; sc.paddingTop = 0; sc.paddingBottom = 0; },
          border: {display: false},
          grid: {
            drawTicks: col === 0,
            tickLength: 5,
            color: (c) => c.tick && isMajor(c.tick.value, 0.5) ? '#E6E6E6' : '#F2F2F2',
            lineWidth: (c) => c.tick && isMajor(c.tick.value, 0.5) ? 1.2 : 0.7,
            tickColor: (c) => c.tick && isMajor(c.tick.value, 0.5) ? '#333333' : 'rgba(0,0,0,0)',
            tickWidth: 1
          },
          ticks: {
            display: col === 0,
            padding: 3,
            color: TICK_COLOR, font: {family: FONT, size: 18},
            callback: (v) => isMajor(v, 0.5) ? v.toFixed(1) : ''
          }
        }
      }
    }
  });
});

// ---------------- axis titles ----------------
const yt = document.createElement('div');
yt.className = 'lab';
yt.textContent = 'log10(Read depth + 1)';
yt.style.left = '20px'; yt.style.top = '584px';
yt.style.transform = 'translate(-50%,-50%) rotate(-90deg)';
document.body.appendChild(yt);

const xt = document.createElement('div');
xt.className = 'lab';
xt.textContent = 'Position (bp)';
xt.style.left = '558px'; xt.style.top = '1205px';
xt.style.transform = 'translate(-50%,-50%)';
document.body.appendChild(xt);

// ---------------- legend ----------------
const LEGEND_KEYS = ['ACC','RAN','GLA','RB','HIB','ATL'];
const LEGEND_Y = [937, 976, 1039, 1077, 1140, 1174];
LEGEND_KEYS.forEach((k, i) => {
  const sw = document.createElement('div');
  sw.className = 'sw';
  sw.style.left = '712px';
  sw.style.width = (k === 'ATL' ? 28 : 26) + 'px';
  sw.style.height = (k === 'ATL' ? 5 : 4) + 'px';
  sw.style.top = (LEGEND_Y[i] - 2) + 'px';
  sw.style.background = COLORS[k];
  document.body.appendChild(sw);
  const t = document.createElement('div');
  t.className = 'lab';
  t.textContent = NAMES[k];
  t.style.left = (k === 'ATL' ? 747 : 743) + 'px';
  t.style.top = LEGEND_Y[i] + 'px';
  t.style.transform = 'translateY(-55%)';
  document.body.appendChild(t);
});
</script>
</body>
</html>
